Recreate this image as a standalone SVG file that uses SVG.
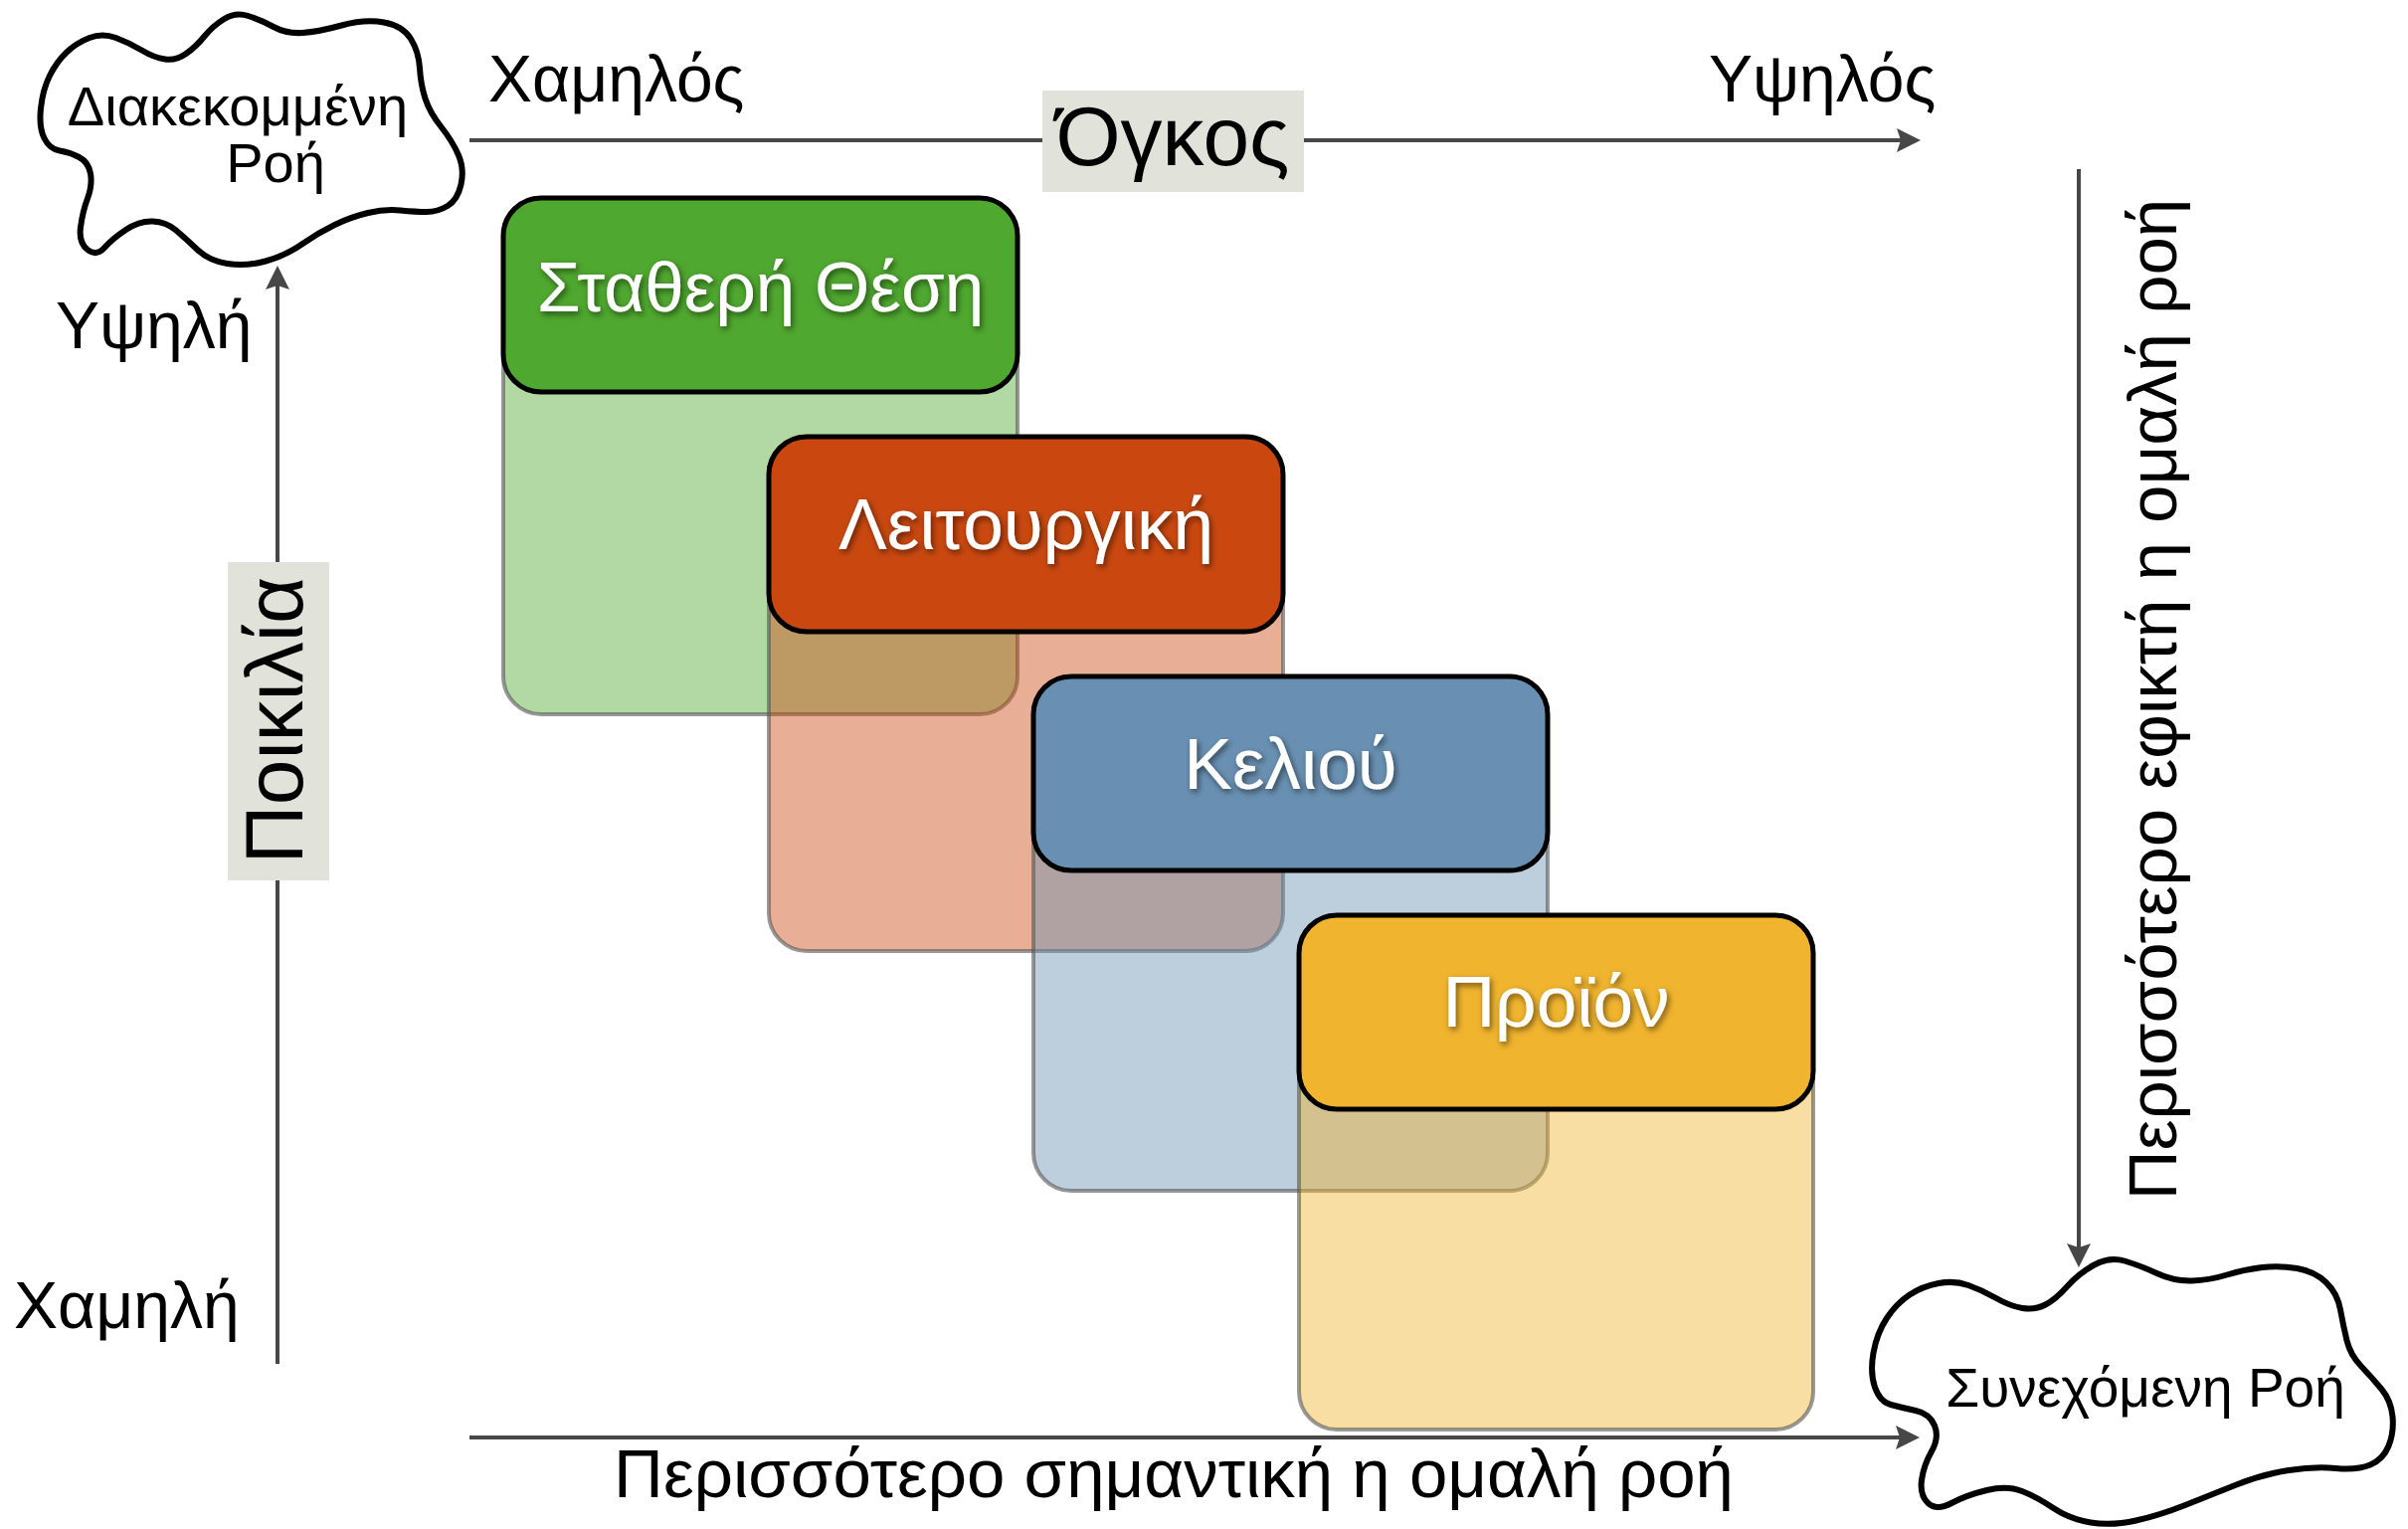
<svg xmlns="http://www.w3.org/2000/svg" width="2421" height="1537" viewBox="0 0 2421 1537">
<style>
.t{font-family:"Liberation Sans",Arial,sans-serif;fill:#000}
.lab{font-size:66px}
.big{font-size:84px;text-anchor:middle}
.mid{font-size:69px;text-anchor:middle}
.cl{font-size:56px;text-anchor:middle}
.hdr{font-family:"Liberation Sans",Arial,sans-serif;fill:#fff;font-size:73px;text-anchor:middle;filter:url(#sh)}
.axis{stroke:#474747;stroke-width:4;fill:none}
.cloud{fill:#fff;stroke:#000;stroke-width:6;stroke-linejoin:round}
.head{stroke:#000;stroke-width:5}
.body{fill-opacity:0.44;stroke:#555;stroke-opacity:0.6;stroke-width:4}
.tag{fill:#e1e2da}
</style>
<defs>
<marker id="ah" viewBox="0 0 24 24" refX="4" refY="12" markerWidth="24" markerHeight="24" markerUnits="userSpaceOnUse" orient="auto">
<path d="M0,0 L24,12 L0,24 L4,12 Z" fill="#474747"/>
</marker>
<filter id="sh" x="-10%" y="-30%" width="120%" height="160%">
<feDropShadow dx="2" dy="3" stdDeviation="3" flood-color="#000" flood-opacity="0.55"/>
</filter>
</defs>
<rect width="2421" height="1537" fill="#fff"/>

<g id="connectors">
<line class="axis" x1="472" y1="141" x2="1911" y2="141" marker-end="url(#ah)"/>
<line class="axis" x1="279" y1="1371" x2="279" y2="287" marker-end="url(#ah)"/>
<line class="axis" x1="2090" y1="170" x2="2090" y2="1254" marker-end="url(#ah)"/>
<line class="axis" x1="472" y1="1445" x2="1910" y2="1445" marker-end="url(#ah)"/>
</g>

<g id="axis-labels">
<text class="t lab" x="491" y="102">Χαμηλός</text>
<text class="t lab" x="1718" y="102">Υψηλός</text>
<text class="t lab" x="56" y="350">Υψηλή</text>
<text class="t lab" x="14" y="1335">Χαμηλή</text>
<g id="volume">
<rect class="tag" x="1048" y="91" width="263" height="102"/>
<text class="t big" x="1179" y="166">Όγκος</text>
</g>
<g id="variety">
<rect class="tag" x="229" y="565" width="102" height="320"/>
<text class="t big" transform="translate(304,724) rotate(-90)" style="font-size:82px">Ποικιλία</text>
</g>
<text class="t mid" transform="translate(2188,703) rotate(-90)">Περισσότερο εφικτή η ομαλή ροή</text>
<text class="t mid" x="1180" y="1505">Περισσότερο σημαντική η ομαλή ροή</text>
</g>

<g id="cloud-intermittent">
<path class="cloud" d="M225.5,19 Q237,12 249.5,16 Q262,20 275,27 Q288,34 304,33 Q320,32 343.5,25.5 Q367,19 386,22.5 Q405,26 413,39 Q421,52 422,68.5 Q423,85 427.5,99 Q432,113 443.5,127.5 Q455,142 461,156 Q467,170 463.5,185.5 Q460,201 450,207 Q440,213 429,213 Q418,213 402.5,211.5 Q387,210 370,214 Q353,218 336.5,226 Q320,234 303.5,245.5 Q287,257 267,262.5 Q247,268 228.5,265 Q210,262 198.5,251 Q187,240 177,231.5 Q167,223 153.5,222.5 Q140,222 126.5,231 Q113,240 105,249 Q97,258 88,251 Q79,244 81,228.5 Q83,213 88,199.5 Q93,186 91,174.5 Q89,163 79.5,158 Q70,153 60,151.5 Q50,150 44.5,139 Q39,128 41,109 Q43,90 50,76 Q57,62 67,52.5 Q77,43 90,38 Q103,33 116.5,38 Q130,43 142.5,50.5 Q155,58 166,59.5 Q177,61 187,54 Q197,47 205.5,36.5 Q214,26 225.5,19 Z"/>
<text class="t cl" x="239" y="126">Διακεκομμένη</text>
<text class="t cl" x="277" y="183">Ροή</text>
</g>

<g id="cloud-continuous">
<path class="cloud" d="M2105.5,1271.5 Q2121,1263 2136,1267.5 Q2151,1272 2168.5,1280 Q2186,1288 2203.5,1287.5 Q2221,1287 2239,1281.5 Q2257,1276 2274.5,1274 Q2292,1272 2309.5,1275 Q2327,1278 2338.5,1289 Q2350,1300 2353,1316.5 Q2356,1333 2359.5,1347.5 Q2363,1362 2374,1373.5 Q2385,1385 2394.5,1396.5 Q2404,1408 2405.5,1424 Q2407,1440 2401.5,1453.5 Q2396,1467 2383,1472.5 Q2370,1478 2348.5,1476 Q2327,1474 2301,1478 Q2275,1482 2248.5,1492.5 Q2222,1503 2197,1513 Q2172,1523 2147.5,1528.5 Q2123,1534 2102,1530.5 Q2081,1527 2064.5,1516 Q2048,1505 2033,1499 Q2018,1493 1997.5,1498 Q1977,1503 1962,1511 Q1947,1519 1938.5,1511 Q1930,1503 1932,1488 Q1934,1473 1942,1459 Q1950,1445 1945,1433 Q1940,1421 1926,1418 Q1912,1415 1901,1412 Q1890,1409 1885,1394.5 Q1880,1380 1883.5,1360 Q1887,1340 1897,1325 Q1907,1310 1920,1301.5 Q1933,1293 1949,1290 Q1965,1287 1979,1292 Q1993,1297 2007,1305 Q2021,1313 2033.5,1315 Q2046,1317 2056.5,1311.5 Q2067,1306 2078.5,1293 Q2090,1280 2105.5,1271.5 Z"/>
<text class="t cl" x="2157" y="1414" style="font-size:55px">Συνεχόμενη Ροή</text>
</g>

<g id="fixed-position">
<rect class="body" x="506" y="199" width="517" height="519" rx="38" fill="#4fa82f"/>
<rect class="head" x="506" y="199" width="517" height="195" rx="38" fill="#4fa82f"/>
<text class="hdr" x="764.5" y="313" style="font-size:71px">Σταθερή Θέση</text>
</g>

<g id="functional">
<rect class="body" x="773" y="439" width="517" height="517" rx="38" fill="#ca4810"/>
<rect class="head" x="773" y="439" width="517" height="196" rx="38" fill="#ca4810"/>
<text class="hdr" x="1031.5" y="552">Λειτουργική</text>
</g>

<g id="cell">
<rect class="body" x="1039" y="680" width="517" height="517" rx="38" fill="#6990b2"/>
<rect class="head" x="1039" y="680" width="517" height="195" rx="38" fill="#6990b2"/>
<text class="hdr" x="1297.5" y="793">Κελιού</text>
</g>

<g id="product">
<rect class="body" x="1306" y="920" width="517" height="517" rx="38" fill="#f0b42e"/>
<rect class="head" x="1306" y="920" width="517" height="195" rx="38" fill="#f0b42e"/>
<text class="hdr" x="1564.5" y="1032">Προϊόν</text>
</g>
</svg>
